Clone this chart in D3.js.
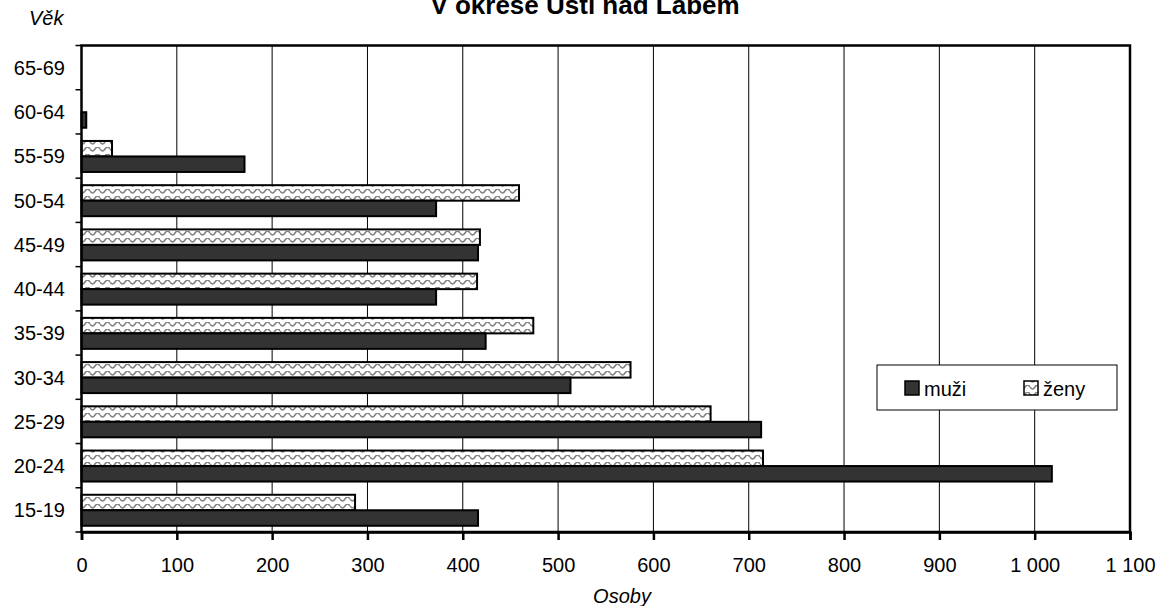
<!DOCTYPE html>
<html><head><meta charset="utf-8">
<script src="https://cdn.jsdelivr.net/npm/d3@7"></script>
<style>
body{margin:0;background:#fff;}
svg text{font-family:"Liberation Sans",Arial,sans-serif;fill:#000;}
</style></head>
<body><svg id="c" width="1160" height="606"></svg>
<script>
const categories = ["15-19","20-24","25-29","30-34","35-39","40-44","45-49","50-54","55-59","60-64","65-69"];
const muzi = [416, 1018, 713, 513, 424, 372, 416, 372, 171, 5, 0];
const zeny = [287, 715, 660, 576, 474, 415, 418, 459, 32, 0, 0];
const xTicks = [0,100,200,300,400,500,600,700,800,900,1000,1100];
const seriesNames = ["muži","ženy"];
const title = "V okrese Ústí nad Labem";

const svg = d3.select("#c");
const L = 81.5, R = 1130, T = 45.5, B = 532;
const x = d3.scaleLinear().domain([0,1100]).range([L,R]);
const y = d3.scaleBand().domain(categories.slice().reverse()).range([T,B]);

const defs = svg.append("defs");
const pat = defs.append("pattern").attr("id","wave").attr("patternUnits","userSpaceOnUse")
  .attr("width",10).attr("height",7);
pat.append("rect").attr("width",10).attr("height",7).attr("fill","#fff");
pat.append("path").attr("d","M0,2 Q2.5,6 5,2 T10,2").attr("fill","none").attr("stroke","#808080").attr("stroke-width",1.5);

const FS = "20px";
// title
svg.append("text").attr("x",585).attr("y",14).attr("text-anchor","middle")
  .style("font-weight","bold").style("font-size","26px").text(title);
svg.append("text").attr("x",29).attr("y",25).style("font-style","italic").style("font-size",FS).text("Věk");
svg.append("text").attr("x",622).attr("y",603).attr("text-anchor","middle").style("font-style","italic").style("font-size",FS).text("Osoby");

// gridlines
svg.append("g").selectAll("line").data(xTicks.slice(1,-1)).join("line")
  .attr("x1",d=>x(d)).attr("x2",d=>x(d)).attr("y1",T).attr("y2",B)
  .attr("stroke","#000").attr("stroke-width",1);

// bars
const bw = 15.5, off = 7;
const g = svg.append("g");
g.selectAll("rect.z").data(categories).join("rect").attr("class","z")
  .attr("x",x(0)).attr("y",d=>y(d)+off).attr("height",bw)
  .attr("width",(d,i)=>x(zeny[i])-x(0))
  .attr("fill","url(#wave)").attr("stroke","#000").attr("stroke-width",2)
  .attr("display",(d,i)=>zeny[i]>0?null:"none");
g.selectAll("rect.m").data(categories).join("rect").attr("class","m")
  .attr("x",x(0)).attr("y",d=>y(d)+off+bw).attr("height",bw)
  .attr("width",(d,i)=>x(muzi[i])-x(0))
  .attr("fill","#333333").attr("stroke","#000").attr("stroke-width",2)
  .attr("display",(d,i)=>muzi[i]>0?null:"none");

// frame
svg.append("rect").attr("x",L).attr("y",T).attr("width",R-L).attr("height",B-T)
  .attr("fill","none").attr("stroke","#000").attr("stroke-width",2.5);

// x axis
const xa = svg.append("g").attr("transform",`translate(0,${B})`)
  .call(d3.axisBottom(x).tickValues(xTicks).tickSize(8).tickPadding(0)
    .tickFormat(d=>d3.format(",")(d).replace(",", " ")));
xa.select(".domain").attr("stroke-width",2.5);
xa.selectAll(".tick line").attr("stroke-width",2.5);
xa.selectAll("text").style("font-size",FS).attr("font-family",null)
  .attr("dy",null).attr("y",39.5);

// y axis ticks between categories
const bounds = d3.range(categories.length+1).map(i=>T+i*y.bandwidth());
svg.append("g").selectAll("line").data(bounds).join("line")
  .attr("x1",L-6).attr("x2",L).attr("y1",d=>d).attr("y2",d=>d)
  .attr("stroke","#000").attr("stroke-width",1.5);
svg.append("g").selectAll("text").data(categories).join("text")
  .attr("x",65).attr("y",d=>y(d)+y.bandwidth()/2+7.3).attr("text-anchor","end")
  .style("font-size",FS).text(d=>d);

// legend
const lg = svg.append("g");
lg.append("rect").attr("x",877).attr("y",365).attr("width",240).attr("height",45)
  .attr("fill","#fff").attr("stroke","#000").attr("stroke-width",1);
const items = [{n:seriesNames[0],f:"#333333",x:905},{n:seriesNames[1],f:"url(#wave)",x:1024}];
items.forEach(it=>{
  lg.append("rect").attr("x",it.x).attr("y",381).attr("width",14).attr("height",14)
    .attr("fill",it.f).attr("stroke","#000").attr("stroke-width",1.5);
  lg.append("text").attr("x",it.x+19).attr("y",396).style("font-size",FS).text(it.n);
});
</script></body></html>
